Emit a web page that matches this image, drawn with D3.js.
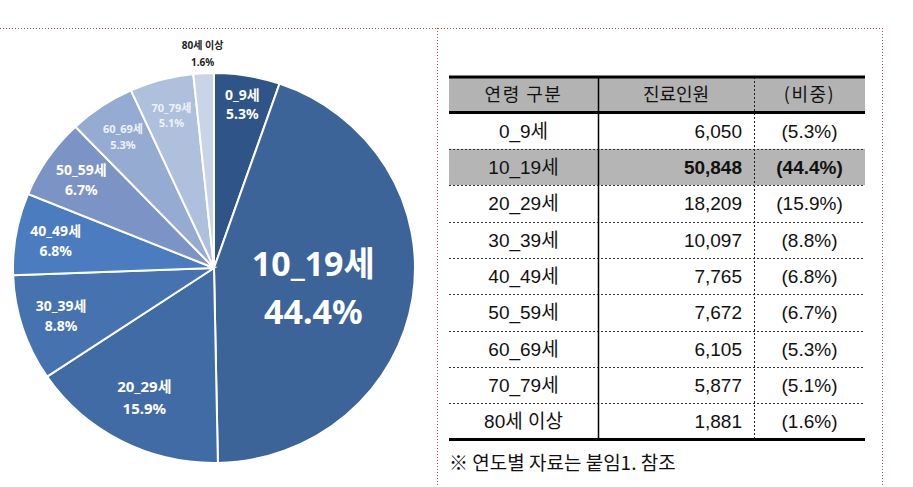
<!DOCTYPE html>
<html>
<head>
<meta charset="utf-8">
<script src="https://cdn.jsdelivr.net/npm/d3@7"></script>
<style>
body { margin: 0; background: #ffffff; }
svg { display: block; }
</style>
</head>
<body>
<svg id="mysvg" width="913" height="487"></svg>
<script>

// data
var ageGroups = ["0_9세", "10_19세", "20_29세", "30_39세", "40_49세", "50_59세", "60_69세", "70_79세", "80세 이상"];
var patients = [6050, 50848, 18209, 10097, 7765, 7672, 6105, 5877, 1881];
var sliceColors = ["#2f5487", "#3d6499", "#416ba5", "#4673b0", "#4b7cbf", "#7b94c5", "#96abd2", "#afc0dd", "#c9d4e7"];
var tableHeaders = ["연령 구분", "진료인원", "(비중)"];
var footNote = "※ 연도별 자료는 붙임1. 참조";
var highlightGroup = "10_19세";

var svg = d3.select("#mysvg");

var total = d3.sum(patients);
var rows = ageGroups.map(function (g, i) {
	return { name: g, value: patients[i], share: patients[i] / total };
});
var fmtPct = d3.format(".1%");
var fmtNum = d3.format(",");

var color = d3.scaleOrdinal().domain(ageGroups).range(sliceColors);

// dotted frame
var frame = svg.append("g")
		.attr("stroke", "#b04a4a")
		.attr("stroke-width", 1)
		.attr("stroke-dasharray", "1,2")
		.attr("fill", "none");
frame.append("line").attr("x1", 0).attr("x2", 882).attr("y1", 28.5).attr("y2", 28.5);
frame.append("line").attr("x1", 437.5).attr("x2", 437.5).attr("y1", 28).attr("y2", 487);
frame.append("line").attr("x1", 882.5).attr("x2", 882.5).attr("y1", 28).attr("y2", 487);

// pie
var cx = 214, cy = 268, R = 201, squash = 0.97;

var pie = d3.pie().sort(null).value(function (d) { return d.value; });
var arcs = pie(rows);
var arc = d3.arc().innerRadius(0).outerRadius(R);

var pieG = svg.append("g")
		.attr("transform", "translate(" + cx + "," + cy + ") scale(1," + squash + ")");

pieG.selectAll("path")
		.data(arcs)
		.enter().append("path")
		.attr("d", arc)
		.attr("fill", function (d) { return color(d.data.name); })
		.attr("stroke", "#ffffff")
		.attr("stroke-width", 2)
		.attr("vector-effect", "non-scaling-stroke");

var smallLabels = ["60_69세", "70_79세"];

var labelG = svg.append("g")
		.attr("font-family", "'Noto Sans', 'Noto Sans CJK KR', sans-serif")
		.attr("font-weight", "bold")
		.attr("text-anchor", "middle");

arcs.forEach(function (d, i) {
	var share = d.data.share;
	var r, size, fill;
	if (share > 0.3) { r = R * 0.5; size = 34; fill = "#ffffff"; }
	else if (share < 0.03) { r = R + 20; size = 10; fill = "#222222"; }
	else if (share > 0.12) { r = R * 0.75; size = 15; fill = "#ffffff"; }
	else if (smallLabels.indexOf(d.data.name) >= 0) { r = R * 0.81; size = 11; fill = "#eef2f8"; }
	else { r = R * (i === 0 ? 0.85 : 0.8); size = 14; fill = "#ffffff"; }

	var a = (d.startAngle + d.endAngle) / 2;
	var x = cx + Math.sin(a) * r;
	var y = cy - Math.cos(a) * r * squash;
	var gap = size * (share < 0.03 ? 1.7 : 1.42);
	if (share > 0.3) { y += 5; }

	labelG.append("text")
			.attr("x", x)
			.attr("y", y - gap / 2)
			.attr("dy", "0.35em")
			.attr("font-size", size)
			.attr("fill", fill)
			.text(d.data.name);
	labelG.append("text")
			.attr("x", x)
			.attr("y", y + gap / 2)
			.attr("dy", "0.35em")
			.attr("font-size", size)
			.attr("fill", fill)
			.text(fmtPct(share));
});

// table
var colEdges = [449, 598, 754, 865];
var headTop = 77, headBottom = 112.5, tableBottom = 439.5;

var y = d3.scaleBand().domain(ageGroups).range([headBottom, tableBottom]);

var table = svg.append("g")
		.attr("font-family", "'Liberation Sans', 'Noto Sans CJK KR', sans-serif")
		.attr("font-size", 19)
		.attr("fill", "#111111");

table.append("rect")
		.attr("x", colEdges[0]).attr("y", headTop)
		.attr("width", colEdges[3] - colEdges[0])
		.attr("height", headBottom - headTop)
		.attr("fill", "#b3b3b3");

table.append("rect")
		.attr("x", colEdges[0]).attr("y", y(highlightGroup))
		.attr("width", colEdges[3] - colEdges[0])
		.attr("height", y.bandwidth())
		.attr("fill", "#b5b5b5");

// row dotted lines
table.selectAll("line.row")
		.data(ageGroups.slice(1))
		.enter().append("line")
		.attr("class", "row")
		.attr("x1", colEdges[0]).attr("x2", colEdges[3])
		.attr("y1", function (d) { return Math.round(y(d)) + 0.5; })
		.attr("y2", function (d) { return Math.round(y(d)) + 0.5; })
		.attr("stroke", "#333333")
		.attr("stroke-width", 1)
		.attr("stroke-dasharray", "2,2");

table.append("line")
		.attr("x1", colEdges[1] + 0.5).attr("x2", colEdges[1] + 0.5)
		.attr("y1", headTop).attr("y2", tableBottom)
		.attr("stroke", "#000000").attr("stroke-width", 1.5);

table.append("line")
		.attr("x1", colEdges[2] + 0.5).attr("x2", colEdges[2] + 0.5)
		.attr("y1", headTop).attr("y2", tableBottom)
		.attr("stroke", "#222222").attr("stroke-width", 1)
		.attr("stroke-dasharray", "2,2");

[headTop, headBottom, tableBottom].forEach(function (ly) {
	table.append("line")
			.attr("x1", colEdges[0]).attr("x2", colEdges[3])
			.attr("y1", ly).attr("y2", ly)
			.attr("stroke", "#000000")
			.attr("stroke-width", 3.2);
});

// header text
var headMid = (headTop + headBottom) / 2;
tableHeaders.forEach(function (h, i) {
	table.append("text")
			.attr("x", (colEdges[i] + colEdges[i + 1]) / 2)
			.attr("y", headMid)
			.attr("dy", "0.36em")
			.attr("text-anchor", "middle")
			.attr("letter-spacing", i === 1 ? 0 : 1.5)
			.attr("font-family", "'Noto Sans CJK KR', sans-serif")
			.attr("font-size", 18)
			.text(h);
});

var rowG = table.selectAll("g.tr")
		.data(rows)
		.enter().append("g")
		.attr("class", "tr")
		.attr("transform", function (d) { return "translate(0," + (y(d.name) + y.bandwidth() / 2) + ")"; });

rowG.append("text")
		.attr("x", (colEdges[0] + colEdges[1]) / 2)
		.attr("dy", "0.36em")
		.attr("text-anchor", "middle")
		.text(function (d) { return d.name; });

rowG.append("text")
		.attr("x", 742)
		.attr("dy", "0.36em")
		.attr("text-anchor", "end")
		.attr("font-weight", function (d) { return d.name === highlightGroup ? "bold" : "normal"; })
		.text(function (d) { return fmtNum(d.value); });

rowG.append("text")
		.attr("x", (colEdges[2] + colEdges[3]) / 2)
		.attr("dy", "0.36em")
		.attr("text-anchor", "middle")
		.attr("font-weight", function (d) { return d.name === highlightGroup ? "bold" : "normal"; })
		.text(function (d) { return "(" + fmtPct(d.share) + ")"; });

svg.append("text")
		.attr("x", colEdges[0])
		.attr("y", 463)
		.attr("dy", "0.36em")
		.attr("font-family", "'Noto Sans CJK KR', sans-serif")
		.attr("font-size", 19)
		.attr("fill", "#111111")
		.text(footNote);

</script>
</body>
</html>
